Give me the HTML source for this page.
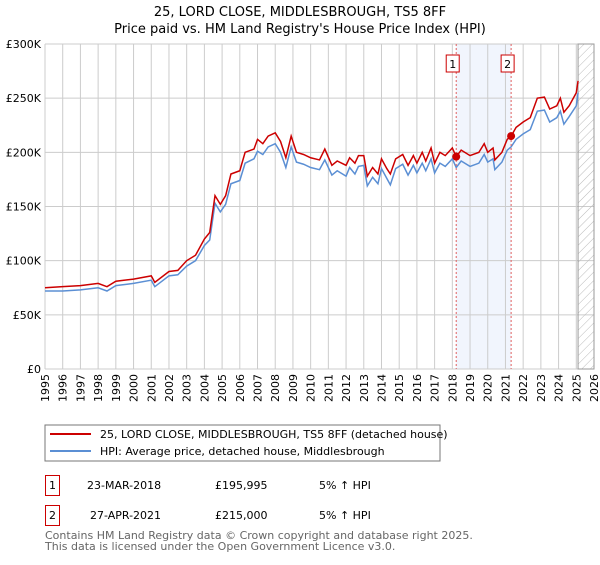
<!DOCTYPE html>
<html><head><meta charset="utf-8"><style>
body{margin:0;width:600px;height:560px;background:#fff;font-family:"Liberation Sans","DejaVu Sans",sans-serif;overflow:hidden}
svg text{font-family:"DejaVu Sans","Liberation Sans",sans-serif}
</style></head><body>
<svg id="c" width="600" height="560" xmlns="http://www.w3.org/2000/svg">
<defs><pattern id="hatch" width="6" height="6" patternUnits="userSpaceOnUse" patternTransform="rotate(45)"><line x1="0" y1="0" x2="0" y2="6" stroke="#bbb" stroke-width="1"/></pattern></defs>
<text x="300" y="16" text-anchor="middle" font-size="13">25, LORD CLOSE, MIDDLESBROUGH, TS5 8FF</text>
<text x="300" y="33" text-anchor="middle" font-size="13">Price paid vs. HM Land Registry's House Price Index (HPI)</text>
<g id="grid"></g><g id="marks"></g>
<rect x="45" y="425" width="395" height="36" fill="#fff" stroke="#777"/>
<line x1="50" y1="434" x2="91" y2="434" stroke="#cc0000" stroke-width="2"/>
<text x="100" y="438" font-size="11">25, LORD CLOSE, MIDDLESBROUGH, TS5 8FF (detached house)</text>
<line x1="50" y1="451" x2="91" y2="451" stroke="#5b8fd4" stroke-width="2"/>
<text x="100" y="455" font-size="11">HPI: Average price, detached house, Middlesbrough</text>
<g font-size="11">
<rect x="45.5" y="475.5" width="14" height="20" fill="none" stroke="#cc0000"/>
<text x="52.5" y="489" text-anchor="middle">1</text>
<text x="87" y="489">23-MAR-2018</text>
<text x="215" y="489">£195,995</text>
<text x="319" y="489">5% ↑ HPI</text>
<rect x="45.5" y="505.5" width="14" height="20" fill="none" stroke="#cc0000"/>
<text x="52.5" y="519" text-anchor="middle">2</text>
<text x="90" y="519">27-APR-2021</text>
<text x="215" y="519">£215,000</text>
<text x="319" y="519">5% ↑ HPI</text>
</g>
<text x="45" y="539" font-size="11" fill="#666">Contains HM Land Registry data © Crown copyright and database right 2025.</text>
<text x="45" y="550" font-size="11" fill="#666">This data is licensed under the Open Government Licence v3.0.</text>
</svg>
<script>
const years=[1995,1996,1997,1998,1999,2000,2001,2002,2003,2004,2005,2006,2007,2008,2009,2010,2011,2012,2013,2014,2015,2016,2017,2018,2019,2020,2021,2022,2023,2024,2025,2026];
const yTicks=[0,50000,100000,150000,200000,250000,300000];
const yTickLabels=["£0","£50K","£100K","£150K","£200K","£250K","£300K"];
const dates=[1995,1996,1997,1998,1998.5,1999,2000,2001,2001.2,2002,2002.5,2003,2003.5,2004,2004.3,2004.6,2004.9,2005.2,2005.5,2006,2006.3,2006.8,2007,2007.3,2007.6,2008,2008.3,2008.6,2008.9,2009.2,2009.6,2010,2010.5,2010.8,2011.2,2011.5,2012,2012.2,2012.5,2012.7,2013,2013.2,2013.5,2013.8,2014,2014.3,2014.5,2014.8,2015.2,2015.5,2015.8,2016,2016.3,2016.5,2016.8,2017,2017.3,2017.6,2018,2018.22,2018.5,2019,2019.5,2019.8,2020,2020.3,2020.4,2020.8,2021.1,2021.32,2021.6,2022,2022.4,2022.8,2023.2,2023.5,2023.9,2024.1,2024.3,2024.6,2025,2025.1];
const priceK=[75,76,77,79,76,81,83,86,80,90,91,100,105,120,126,160,152,160,180,183,200,203,212,208,215,218,210,195,215,200,198,195,193,203,188,192,188,195,190,197,197,178,186,180,194,185,180,194,198,188,197,190,200,192,204,190,200,197,204,196,202,197,200,208,200,204,193,200,212,215,223,228,232,250,251,240,243,250,237,243,255,266];
const hpiK=[72,72,73,75,72,77,79,82,76,86,87,95,100,114,119,153,145,152,171,174,190,194,201,198,205,208,200,186,205,191,189,186,184,193,179,183,178,186,180,187,188,169,177,171,185,176,170,185,189,179,188,181,190,183,194,181,190,187,194,186,192,187,190,198,191,194,184,191,202,205,212,217,221,238,239,228,232,238,226,233,243,255];
const sales=[{t:2018.22,v:195995},{t:2021.32,v:215000}];
const X0=45,X1=594,Y0=369,Y1=44;
const xs=t=>X0+(t-1995)/(2026-1995)*(X1-X0);
const ys=v=>Y0-v/300000*(Y0-Y1);
const NS="http://www.w3.org/2000/svg";
function mk(tag,attrs,parent){const e=document.createElementNS(NS,tag);for(const k in attrs)e.setAttribute(k,attrs[k]);parent.appendChild(e);return e;}
const g=document.getElementById('grid'),m=document.getElementById('marks');
const sh=mk('rect',{x:xs(sales[0].t),y:Y1,width:xs(sales[1].t)-xs(sales[0].t),height:Y0-Y1,fill:'#eef3fc',opacity:0.8},g);


years.forEach(y=>{
 const l=mk('line',{x1:xs(y),x2:xs(y),y1:Y1,y2:Y0,stroke:'#ccc'},g);
 
 
 const t=mk('text',{x:0,y:0,'font-size':11,'text-anchor':'end',transform:`translate(${xs(y)+4},${Y0+5}) rotate(-90)`},g);
 t.textContent=y;
 
 
});
yTicks.forEach((v,i)=>{
 const l=mk('line',{x1:X0,x2:X1,y1:ys(v),y2:ys(v),stroke:'#ccc'},g);
 
 
 const t=mk('text',{x:X0-4,y:ys(v)+4,'font-size':11,'text-anchor':'end'},g);
 t.textContent=yTickLabels[i];
 
 
});
const hz=mk('rect',{x:xs(2025.1),y:Y1,width:X1-xs(2025.1),height:Y0-Y1,fill:'url(#hatch)',stroke:'#999'},g);


const hp=mk('polyline',{points:dates.map((d,i)=>xs(d)+','+ys(hpiK[i]*1000)).join(' '),fill:'none',stroke:'#5b8fd4','stroke-width':1.5},m);


const pp=mk('polyline',{points:dates.map((d,i)=>xs(d)+','+ys(priceK[i]*1000)).join(' '),fill:'none',stroke:'#cc0000','stroke-width':1.5},m);


sales.forEach((s,i)=>{
 const l=mk('line',{x1:xs(s.t),x2:xs(s.t),y1:Y1,y2:Y0,stroke:'#e06060','stroke-dasharray':'2,2'},m);
 
 
 const c=mk('circle',{cx:xs(s.t),cy:ys(s.v),r:4,fill:'#cc0000'},m);
 
 
 const b=mk('rect',{x:xs(s.t)-10,y:55,width:13,height:17,fill:'#fff',stroke:'#cc0000'},m);
 
 
 const t=mk('text',{x:xs(s.t)-3.5,y:68,'font-size':11,'text-anchor':'middle'},m);
 t.textContent=String(i+1);
 
 
});
</script>
</body></html>
